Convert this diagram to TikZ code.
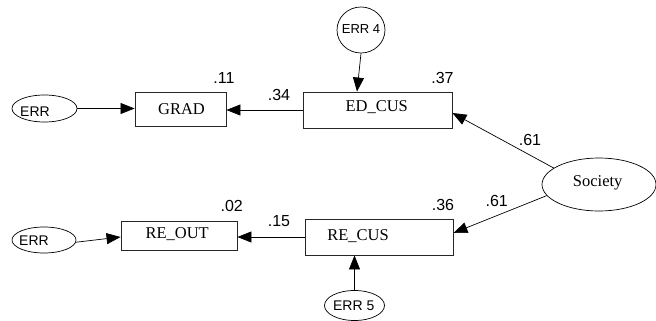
\documentclass[tikz,border=0pt]{standalone}
\usepackage{fontspec}
\setmainfont{Liberation Serif}
\newfontfamily\arialf{Liberation Sans}
\usetikzlibrary{arrows.meta,shapes.geometric,calc}
\tikzset{
  varbox/.style={draw=black!85,line width=0.9pt,rectangle,inner sep=0pt},
  errell/.style={draw=black,line width=0.7pt,ellipse,inner sep=0pt},
  boxtxt/.style={anchor=base,inner sep=0pt,font=\fontsize{16.5}{18}\selectfont},
  numtxt/.style={anchor=base,inner sep=0pt,font=\arialf\fontsize{16}{18}\selectfont},
  errtxt/.style={anchor=base,inner sep=0pt,font=\arialf\fontsize{14}{16}\selectfont},
  conn/.style={draw=black,line width=0.7pt,-{Triangle[length=14pt,width=11pt]}}
}
\begin{document}
\begin{tikzpicture}[x=1pt,y=-1pt]
\useasboundingbox (0,0) rectangle (656,321);
% shapes
\node[errell,minimum width=65pt,minimum height=27pt] (errA) at (44.5,108.5) {};
\node[varbox,minimum width=91pt,minimum height=34pt] (grad) at (180.5,109) {};
\node[varbox,minimum width=149pt,minimum height=36pt] (edcus) at (377.5,110) {};
\node[errell,minimum width=48pt,minimum height=46pt] (err4) at (361,30) {};
\node[errell,minimum width=114pt,minimum height=53pt] (society) at (599,184.5) {};
\node[errell,minimum width=64pt,minimum height=26pt] (errB) at (44,240) {};
\node[varbox,minimum width=116pt,minimum height=29pt] (reout) at (179,235.5) {};
\node[varbox,minimum width=148pt,minimum height=36pt] (recus) at (379,237) {};
\node[errell,minimum width=60pt,minimum height=30pt] (err5) at (354.5,305.5) {};
% texts
\node[errtxt] (tErrA) at (35,116) {ERR};
\node[errtxt] (tErrB) at (34,245) {ERR};
\node[errtxt,font=\arialf\fontsize{13}{15}\selectfont] (tErr4) at (361,33.3) {ERR 4};
\node[errtxt] (tErr5) at (353.7,310) {ERR 5};
\node[boxtxt] (tGrad) at (181.5,114) {GRAD};
\node[boxtxt] (tEd) at (376.7,111) {ED\_CUS};
\node[boxtxt] (tReout) at (177.2,238.3) {RE\_OUT};
\node[boxtxt] (tRecus) at (358,240) {RE\_CUS};
\node[boxtxt] (tSoc) at (597.7,186) {Society};
% numbers
\node[numtxt] (n11) at (224,83.3) {.11};
\node[numtxt] (n34) at (279,100) {.34};
\node[numtxt] (n37) at (442.5,83.3) {.37};
\node[numtxt] (n61a) at (530,145) {.61};
\node[numtxt] (n61b) at (496.7,206.7) {.61};
\node[numtxt] (n36) at (443,210) {.36};
\node[numtxt] (n02) at (231.7,211.7) {.02};
\node[numtxt] (n15) at (279,226.7) {.15};
% connectors
\draw[conn] (errA.east) -- (errA.east -| grad.west);
\draw[conn] (edcus.west) -- (edcus.west -| grad.east);
\draw[conn] (err4.south) -- ($(edcus.north)+(-20.5,0)$);
\draw[conn] (society.160) -- ($(edcus.east)+(0,3)$);
\draw[conn] (society.192) -- ($(recus.east)+(0,-4)$);
\draw[conn] (recus.west) -- (recus.west -| reout.east);
\draw[conn] (errB.-4) -- ($(reout.west)+(0,1.5)$);
\draw[conn] (err5.north) -- (err5.north |- recus.south);
\end{tikzpicture}
\end{document}
